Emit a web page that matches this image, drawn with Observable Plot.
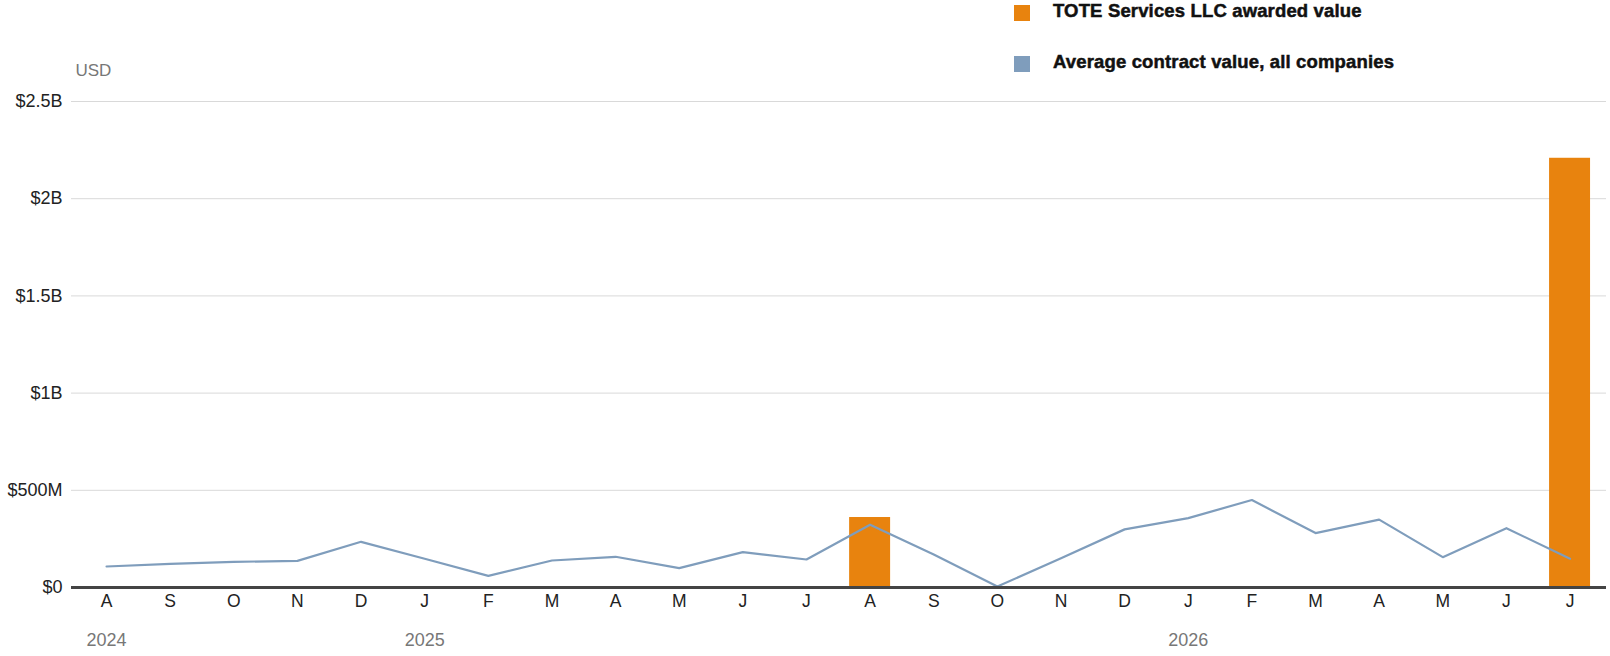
<!DOCTYPE html>
<html>
<head>
<meta charset="utf-8">
<script src="https://cdn.jsdelivr.net/npm/d3@7"></script>
<script src="https://cdn.jsdelivr.net/npm/@observablehq/plot@0.6"></script>
<style>
  html, body { margin: 0; padding: 0; background: #fff; }
  #wrap { position: relative; width: 1610px; height: 656px; font-family: "Liberation Sans", Arial, sans-serif; }
  .legend { position: absolute; left: 1014px; font-size: 18.5px; font-weight: bold; color: #111; -webkit-text-stroke: 0.5px #111; white-space: nowrap; letter-spacing: 0.15px; }
  .legend .sw { position: absolute; left: 0; width: 16px; height: 16px; }
  .legend .lbl { position: absolute; left: 39px; line-height: 20px; }
</style>
</head>
<body>
<div id="wrap"></div>
<script>
// Months, Aug 2024 – Jul 2026
const months = ["2024-08","2024-09","2024-10","2024-11","2024-12","2025-01","2025-02","2025-03","2025-04","2025-05","2025-06","2025-07",
                "2025-08","2025-09","2025-10","2025-11","2025-12","2026-01","2026-02","2026-03","2026-04","2026-05","2026-06","2026-07"];
const monthLabels = ["A","S","O","N","D","J","F","M","A","M","J","J","A","S","O","N","D","J","F","M","A","M","J","J"];
// Average contract value, all companies (USD)
const avgValues = [0.108e9,0.122e9,0.132e9,0.137e9,0.235e9,0.148e9,0.060e9,0.139e9,0.158e9,0.100e9,0.182e9,0.144e9,
                   0.323e9,0.170e9,0.005e9,0.150e9,0.299e9,0.357e9,0.450e9,0.280e9,0.349e9,0.156e9,0.305e9,0.148e9];
// TOTE Services LLC awarded value (USD)
const toteValues = [0,0,0,0,0,0,0,0,0,0,0,0, 0.360e9,0,0,0,0,0,0,0,0,0,0,2.208e9];
const yTicks = [0, 0.5e9, 1e9, 1.5e9, 2e9, 2.5e9];
const yTickLabels = ["$0","$500M","$1B","$1.5B","$2B","$2.5B"];
const yearTicks = ["2024-08","2025-01","2026-01"];
const yearLabels = ["2024","2025","2026"];
const legendItems = ["TOTE Services LLC awarded value", "Average contract value, all companies"];
const colors = ["#e8830e", "#7f9dbc"];

const rows = months.map((m, i) => ({month: m, label: monthLabels[i], avg: avgValues[i], tote: toteValues[i]}));
const bars = rows.filter(d => d.tote > 0);

const font = "Liberation Sans, Arial, sans-serif";
const chart = Plot.plot({
  width: 1610,
  height: 656,
  marginLeft: 71,
  marginRight: 4,
  marginTop: 101,
  marginBottom: 69,
  style: {fontFamily: font, background: "#fff", overflow: "visible"},
  x: {type: "band", domain: months, padding: 0.356, range: [62.9, 1612.7], round: false},
  y: {domain: [0, 2.5e9]},
  marks: [
    Plot.gridY({ticks: yTicks, stroke: "#d9d9d9", strokeOpacity: 1, strokeWidth: 1}),
    Plot.barY(bars, {x: "month", y: "tote", fill: colors[0]}),
    Plot.line(rows, {x: "month", y: "avg", stroke: colors[1], strokeWidth: 2.2}),
    Plot.ruleY([0], {stroke: "#444", strokeWidth: 3}),
    Plot.axisY({ticks: yTicks, tickSize: 0, tickPadding: 9, fontSize: 18, fill: "#222",
      tickFormat: v => yTickLabels[yTicks.indexOf(v)], label: null}),
    Plot.axisX({tickSize: 0, tickPadding: 7, fontSize: 17.5, fill: "#222",
      tickFormat: m => monthLabels[months.indexOf(m)], label: null}),
    Plot.axisX({ticks: yearTicks, tickSize: 0, tickPadding: 46, fontSize: 18, fill: "#777",
      tickFormat: m => yearLabels[yearTicks.indexOf(m)], label: null}),
    Plot.text(["USD"], {frameAnchor: "top-left", dx: 4, dy: -31, text: d => d, textAnchor: "start",
      lineAnchor: "middle", fontSize: 17, fill: "#777"})
  ]
});
const wrap = document.getElementById("wrap");
wrap.appendChild(chart);

legendItems.forEach((t, i) => {
  const div = document.createElement("div");
  div.className = "legend";
  div.style.top = (5 + i * 51) + "px";
  div.innerHTML = `<span class="sw" style="background:${colors[i]}"></span><span class="lbl" style="top:-4px">${t}</span>`;
  wrap.appendChild(div);
});
</script>
</body>
</html>
